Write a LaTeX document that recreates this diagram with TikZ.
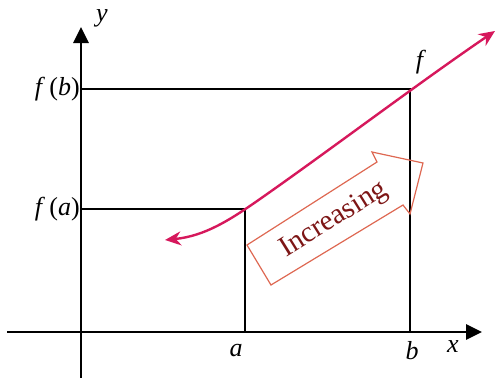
\documentclass[tikz,border=0pt]{standalone}
\usepackage{fontspec}
\setmainfont{Liberation Serif}
\usetikzlibrary{arrows.meta}
\definecolor{curvered}{RGB}{214,24,92}
\definecolor{boxorange}{RGB}{222,104,82}
\definecolor{textred}{RGB}{125,22,22}
\begin{document}
\begin{tikzpicture}[x=1pt,y=-1pt,
  axis/.style={line width=2.8pt,-{Triangle[length=16pt,width=15pt]}},
  guide/.style={line width=2.6pt,line join=miter},
  lab/.style={font=\fontsize{26}{26}\selectfont, inner sep=0pt},
  fcurve/.style={line width=2.4pt,color=curvered,{Stealth[length=16pt,width=14pt]}-{Stealth[length=16pt,width=14pt]}},
  incbox/.style={draw=boxorange,line width=1.2pt,line join=miter}]
\useasboundingbox (0,0) rectangle (496,378);
% coordinates
\coordinate (xs) at (7,332);
\coordinate (xe) at (482,332);
\coordinate (yb) at (81,378);
\coordinate (ye) at (81,27);
\coordinate (Fa) at (81,209);
\coordinate (Fb) at (81,89);
\coordinate (Pa) at (245,209);
\coordinate (Pb) at (410,89);
\coordinate (A) at (245,332);
\coordinate (B) at (410,332);
% axes
\draw[axis] (xs) -- (xe);
\draw[axis] (yb) -- (ye);
% guides
\draw[guide] (Fb) -- (Pb) -- (B);
\draw[guide] (Fa) -- (Pa) -- (A);
% curve
\coordinate (cl) at (165,240);
\coordinate (cm) at (260,199);
\coordinate (cr) at (495,31);
\draw[fcurve] (cl) .. controls (205,236) and (230,220) .. (cm)
  .. controls (330,150) and (420,82) .. (cr);
% increasing arrow
\draw[incbox] (247,245) -- (377,162) -- (372,152) -- (423,163) -- (410,214) -- (403,205) -- (271,285) -- cycle;
\node[lab, rotate=32, text=textred, font=\fontsize{29}{29}\selectfont] (inc) at (334,220) {Increasing};
% labels
\node[lab, anchor=west] (ylab) at (96,18) {\textit{y}};
\node[lab, anchor=east] (fb) at (80,89) {\textit{f}\,(\textit{b})};
\node[lab, anchor=east] (fa) at (80,209) {\textit{f}\,(\textit{a})};
\node[lab] (alab) at (236,351) {\textit{a}};
\node[lab] (blab) at (412,351) {\textit{b}};
\node[lab] (xlab) at (453,347) {\textit{x}};
\node[lab] (flab) at (421,62) {\textit{f}};
\end{tikzpicture}
\end{document}
